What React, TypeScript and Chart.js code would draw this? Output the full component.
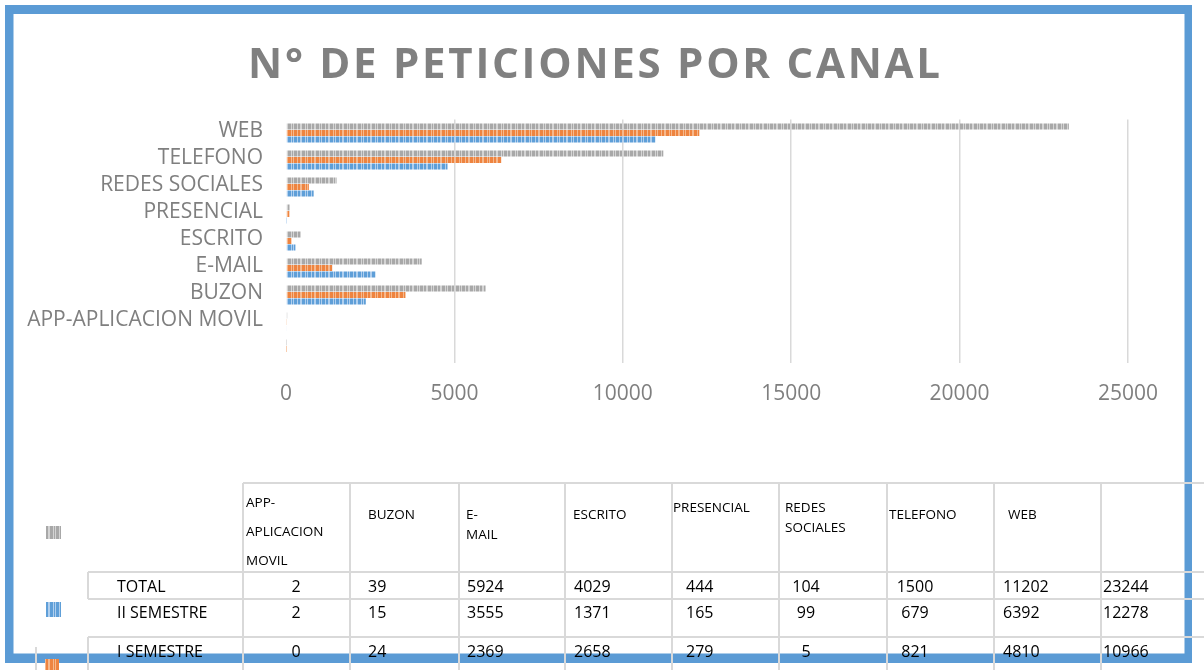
import { useEffect, useRef } from "react";
import { Chart, registerables } from "chart.js";

Chart.register(...registerables);

// ---------- DATA ----------
const TITLE = "N° DE PETICIONES POR CANAL";
// Column order as in the data table below the chart (the 9th column holds the grand totals)
const CHANNELS = [
  "APP-APLICACION MOVIL",
  "BUZON",
  "E-MAIL",
  "ESCRITO",
  "PRESENCIAL",
  "REDES SOCIALES",
  "TELEFONO",
  "WEB",
  "",
];
const HEADER_LINES = [
  ["APP-", "APLICACION", "MOVIL"],
  ["BUZON"],
  ["E-", "MAIL"],
  ["ESCRITO"],
  ["PRESENCIAL"],
  ["REDES", "SOCIALES"],
  ["TELEFONO"],
  ["WEB"],
  [""],
];
const SERIES_NAMES = ["TOTAL", "II SEMESTRE", "I SEMESTRE"];
const TOTAL_VALUES = [2, 39, 5924, 4029, 444, 104, 1500, 11202, 23244];
const SEM2_VALUES = [2, 15, 3555, 1371, 165, 99, 679, 6392, 12278];
const SEM1_VALUES = [0, 24, 2369, 2658, 279, 5, 821, 4810, 10966];
const X_MIN = 0;
const X_MAX = 25000;
const X_STEP = 5000;

// The chart shows the table values shifted by one category (blank category at the bottom)
const CHART_LABELS_BOTTOM_UP = ["", ...CHANNELS.slice(0, 8)];
const CHART_LABELS = [...CHART_LABELS_BOTTOM_UP].reverse();
const chartData = (vals: number[]) => [...vals].reverse();

// ---------- LAYOUT / STYLE ----------
const W = 1204;
const H = 670;
const GRAY_TEXT = "#7f7f7f";
const FRAME = "#5b9bd5";
const TABLE_LINE = "#d9d9d9";
const COL_LINES_X = [243, 350, 459, 565, 672, 779, 887, 994, 1101];
const HEADER_X = [246, 368, 466, 573, 673, 785, 889, 1008, 1108];
const HEADER_Y0 = [503, 515, 515, 515, 508, 508, 515, 515, 515];
const HEADER_GAP = [29, 0, 20, 0, 0, 20, 0, 0, 0];
const VALUE_X = [296, 368, 467, 574, 686, 806, 915, 1003, 1103];
const VALUE_ALIGN: CanvasTextAlign[] = ["center", "left", "left", "left", "left", "center", "center", "left", "left"];
const ROW_Y = [587, 613, 652];

function makePattern(ctx: CanvasRenderingContext2D, dark: string, light: string) {
  const c = document.createElement("canvas");
  const cols = [1, 1, 1, 0, 1, 1, 0, 0, 1, 1, 1, 0, 1, 0];
  c.width = cols.length;
  c.height = 4;
  const g = c.getContext("2d")!;
  cols.forEach((v, i) => {
    g.fillStyle = v ? dark : light;
    g.fillRect(i, 0, 1, 4);
  });
  return ctx.createPattern(c, "repeat")!;
}

export default function App() {
  const ref = useRef<HTMLCanvasElement>(null);

  useEffect(() => {
    const canvas = ref.current!;
    const c0 = canvas.getContext("2d")!;
    const patGray = makePattern(c0, "#a8a8a8", "#d4d4d4");
    const patOrange = makePattern(c0, "#ee8440", "#f6b88c");
    const patBlue = makePattern(c0, "#5f9fd8", "#b0cfee");

    const framePlugin = {
      id: "frame",
      beforeDraw(chart: any) {
        const ctx = chart.ctx as CanvasRenderingContext2D;
        ctx.save();
        ctx.fillStyle = "#ffffff";
        ctx.fillRect(0, 0, W, H);
        ctx.fillStyle = FRAME;
        ctx.fillRect(5, 5, 1187, 9);
        ctx.fillRect(5, 5, 8.5, 658);
        ctx.fillRect(1184.5, 5, 7.5, 658);
        ctx.fillRect(5, 653.5, 1187, 9.5);
        ctx.restore();
      },
    };

    const extrasPlugin = {
      id: "extras",
      afterDraw(chart: any) {
        const ctx = chart.ctx as CanvasRenderingContext2D;
        ctx.save();
        // Title with letter spacing
        ctx.font = "bold 42px 'Open Sans'";
        ctx.fillStyle = "#808080";
        ctx.textAlign = "left";
        ctx.textBaseline = "alphabetic";
        (ctx as any).letterSpacing = "0px";
        const w0 = ctx.measureText(TITLE).width;
        const sp = (692 - w0) / (TITLE.length - 1);
        (ctx as any).letterSpacing = sp + "px";
        ctx.fillText(TITLE, 248, 78);
        (ctx as any).letterSpacing = "0px";

        // Table lines
        ctx.strokeStyle = TABLE_LINE;
        ctx.lineWidth = 2;
        const hline = (x1: number, x2: number, y: number) => {
          ctx.beginPath();
          ctx.moveTo(x1, y);
          ctx.lineTo(x2, y);
          ctx.stroke();
        };
        const vline = (x: number, y1: number, y2: number) => {
          ctx.beginPath();
          ctx.moveTo(x, y1);
          ctx.lineTo(x, y2);
          ctx.stroke();
        };
        hline(243, W, 483);
        hline(88, W, 572);
        hline(88, W, 599);
        hline(88, W, 637);
        COL_LINES_X.forEach((x) => vline(x, 483, H));
        vline(88, 572, 599);
        vline(88, 637, H);
        vline(36, 647, H);

        // Header text
        ctx.fillStyle = "#000000";
        ctx.textBaseline = "middle";
        ctx.font = "13.5px 'Open Sans'";
        ctx.textAlign = "left";
        HEADER_LINES.forEach((lines, i) => {
          lines.forEach((t, j) => {
            ctx.fillText(t, HEADER_X[i], HEADER_Y0[i] + j * HEADER_GAP[i]);
          });
        });

        // Rows
        ctx.font = "16px 'Open Sans'";
        const rows = [TOTAL_VALUES, SEM2_VALUES, SEM1_VALUES];
        rows.forEach((vals, r) => {
          ctx.textAlign = "left";
          ctx.fillText(SERIES_NAMES[r], 117, ROW_Y[r]);
          vals.forEach((v, i) => {
            ctx.textAlign = VALUE_ALIGN[i];
            ctx.fillText(String(v), VALUE_X[i], ROW_Y[r]);
          });
        });

        // Legend keys
        ctx.fillStyle = patGray;
        ctx.fillRect(46, 526, 15, 13);
        ctx.fillStyle = patBlue;
        ctx.fillRect(46, 602, 15, 15);
        ctx.fillStyle = patOrange;
        ctx.fillRect(45, 659, 14, 11);
        ctx.restore();
      },
    };

    const chart = new Chart(canvas, {
      type: "bar",
      data: {
        labels: CHART_LABELS,
        datasets: [
          { label: SERIES_NAMES[0], data: chartData(TOTAL_VALUES), backgroundColor: patGray as any },
          { label: SERIES_NAMES[1], data: chartData(SEM2_VALUES), backgroundColor: patOrange as any },
          { label: SERIES_NAMES[2], data: chartData(SEM1_VALUES), backgroundColor: patBlue as any },
        ],
      },
      options: {
        indexAxis: "y",
        responsive: false,
        devicePixelRatio: 1,
        animation: false,
        layout: { padding: { top: 119.5, right: W - 1128, bottom: 0, left: 0 } },
        datasets: { bar: { categoryPercentage: 0.72, barPercentage: 0.93 } } as any,
        plugins: {
          legend: { display: false },
          title: { display: false },
          tooltip: { enabled: false },
        },
        scales: {
          x: {
            min: X_MIN,
            max: X_MAX,
            ticks: {
              stepSize: X_STEP,
              color: GRAY_TEXT,
              font: { family: "'Open Sans'", size: 21 },
              padding: 19,
              callback: (v: any) => String(v),
            },
            grid: {
              color: (c: any) => (c.tick && c.tick.value === 0 ? "rgba(0,0,0,0)" : "#d9d9d9"),
              lineWidth: 1.5,
              drawTicks: false,
            },
            border: { display: false },
            afterFit: (s: any) => {
              s.height = H - 362.5;
            },
          },
          y: {
            ticks: {
              color: GRAY_TEXT,
              font: { family: "'Open Sans'", size: 21 },
              padding: 23,
              labelOffset: -2,
              autoSkip: false,
            },
            grid: { display: false, drawTicks: false },
            border: { display: false },
            afterFit: (s: any) => {
              s.width = 286;
            },
          },
        },
      },
      plugins: [framePlugin, extrasPlugin],
    });

    return () => chart.destroy();
  }, []);

  return (
    <div style={{ position: "absolute", left: 0, top: 0, width: W, height: H, background: "#fff", overflow: "hidden" }}>
      <canvas ref={ref} width={W} height={H} style={{ display: "block", width: W, height: H }} />
    </div>
  );
}
